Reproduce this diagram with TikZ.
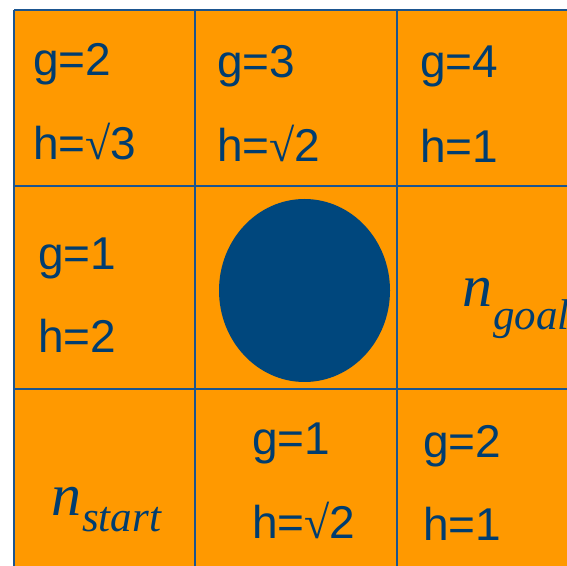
\documentclass[tikz,border=0pt]{standalone}
\usepackage{fontspec}
\setmainfont{Liberation Sans}
\newfontfamily\serifit{Liberation Serif}[ItalicFont={Liberation Serif Italic}]
\newcommand{\rt}{{\serifit √}}
\definecolor{cellfill}{HTML}{FF9900}
\definecolor{gridline}{HTML}{1B5590}
\definecolor{txt}{HTML}{003D70}
\definecolor{blob}{HTML}{00477D}
\tikzset{
  val/.style={anchor=base west, inner sep=0pt, text=txt, font=\fontsize{46}{50}\selectfont},
  nmain/.style={anchor=base west, inner sep=0pt, text=txt, font=\serifit\itshape\fontsize{60}{64}\selectfont},
  nsub/.style={anchor=base west, inner sep=0pt, text=txt, font=\serifit\itshape\fontsize{43}{48}\selectfont},
}
\begin{document}
\begin{tikzpicture}[x=1pt,y=1pt]
\useasboundingbox (0,0) rectangle (567,565);
\begin{scope}
\clip (0,0) rectangle (567,565);
\fill[cellfill] (14,-20) rectangle (600,555);
\foreach \xx in {14,195,397} \draw[gridline, line width=2pt] (\xx,-20) -- (\xx,555);
\foreach \yy in {555,379,176} \draw[gridline, line width=2pt] (14,\yy) -- (600,\yy);
\end{scope}
\fill[blob] (304.5,274.5) ellipse [x radius=85.5, y radius=91.5];
% top row
\node[val] (g00) at (33,489) {g=2};
\node[val] (h00) at (33,405) {h=\rt3};
\node[val] (g10) at (217,487) {g=3};
\node[val] (h10) at (217,403) {h=\rt2};
\node[val] (g20) at (420,487) {g=4};
\node[val] (h20) at (420,402) {h=1};
% middle row
\node[val] (g01) at (38,295) {g=1};
\node[val] (h01) at (38,212) {h=2};
\node[nmain] (ng) at (462,258) {n};
\node[nsub] (ngs) at (493,235) {goal};
% bottom row
\node[nmain] (ns) at (51,50) {n};
\node[nsub] (nss) at (82,34) {start};
\node[val] (g11) at (252,111) {g=1};
\node[val] (h11) at (252,27) {h=\rt2};
\node[val] (g21) at (423,108) {g=2};
\node[val] (h21) at (423,25) {h=1};
\end{tikzpicture}
\end{document}
